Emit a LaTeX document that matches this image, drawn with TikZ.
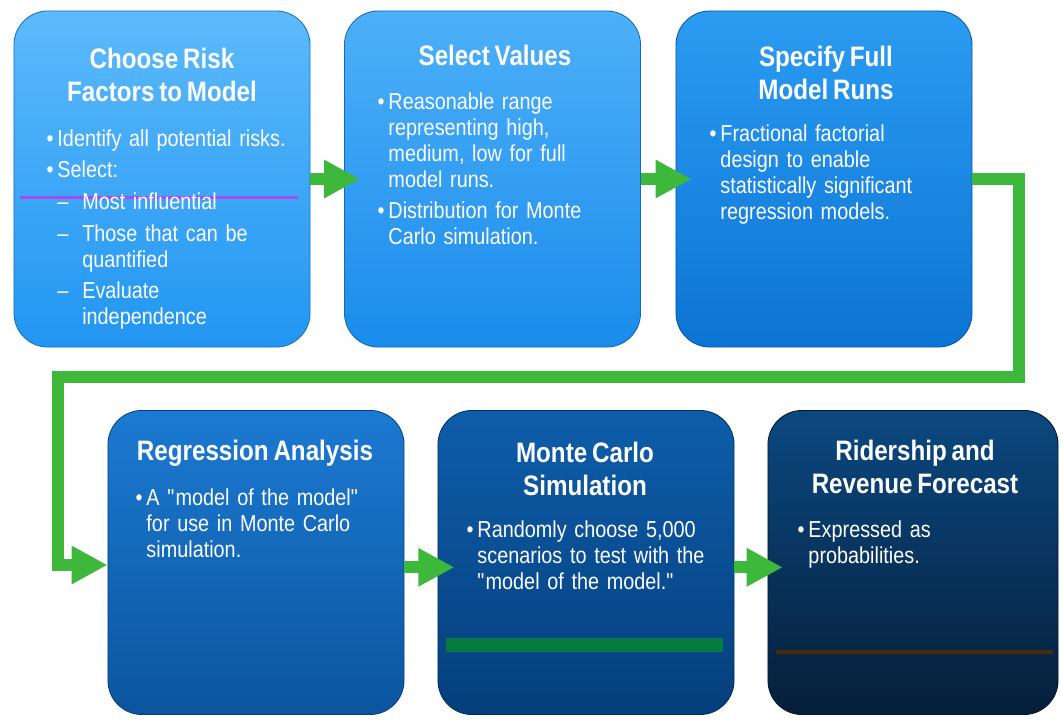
\documentclass[tikz,border=0pt]{standalone}
\usepackage{fontspec}
\setmainfont[FakeStretch=0.86, WordSpace=0.72]{Liberation Sans}
\usepackage{enumitem}
\usetikzlibrary{arrows.meta}

\setlist[itemize,1]{label=\textbullet, leftmargin=0.28cm, labelsep=0.1cm, topsep=0pt, itemsep=4pt, parsep=0pt, partopsep=0pt}
\setlist[itemize,2]{label=\textendash, leftmargin=0.62cm, labelsep=0.35cm, topsep=4pt, itemsep=4pt, parsep=0pt, partopsep=0pt}

\definecolor{flowgreen}{HTML}{3DB83A}
\definecolor{risktop}{HTML}{5DBAFC}
\definecolor{riskbot}{HTML}{2196F2}
\definecolor{valuestop}{HTML}{4DB0F9}
\definecolor{valuesbot}{HTML}{1A8CEB}
\definecolor{spectop}{HTML}{2B9CF2}
\definecolor{specbot}{HTML}{0C74D4}
\definecolor{regtop}{HTML}{1C7AD2}
\definecolor{regbot}{HTML}{0B559E}
\definecolor{mctop}{HTML}{0E5DAA}
\definecolor{mcbot}{HTML}{053F7C}
\definecolor{foretop}{HTML}{0B4880}
\definecolor{forebot}{HTML}{061F3A}
\definecolor{markpurple}{HTML}{A64BF0}
\definecolor{bargreen}{HTML}{077A40}
\definecolor{barbrown}{HTML}{4A2A08}

\tikzset{
	stage/.style={rounded corners=0.85cm, minimum width=7.4cm, minimum height=8.4cm, inner sep=0pt, line width=0.6pt},
	lowstage/.style={stage, minimum height=7.6cm},
	heading/.style={text=white, font=\bfseries\fontsize{20}{23}\selectfont, align=center},
	points/.style={text=white, font=\fontsize{16.4}{18.5}\selectfont, text width=6.8cm, align=left, anchor=north west, inner sep=0pt},
	flow/.style={draw=flowgreen, line width=0.3cm, line join=miter, -{Triangle[length=0.9cm, width=0.9cm]}},
}

\begin{document}
\begin{tikzpicture}[x=0.025cm, y=-0.025cm]
			\useasboundingbox (0,0) rectangle (1061,719);

			\node[stage, top color=risktop, bottom color=riskbot, draw=riskbot!75!black] (risk) at (162,179) {};
			\node[stage, top color=valuestop, bottom color=valuesbot, draw=valuesbot!75!black] (values) at (492.5,179) {};
			\node[stage, top color=spectop, bottom color=specbot, draw=specbot!75!black] (spec) at (824,179) {};
			\node[lowstage, top color=regtop, bottom color=regbot, draw=regbot!75!black] (reg) at (256,562.5) {};
			\node[lowstage, top color=mctop, bottom color=mcbot, draw=mcbot!75!black] (mc) at (586,562.5) {};
			\node[lowstage, minimum width=7.25cm, top color=foretop, bottom color=forebot, draw=forebot!75!black] (fore) at (913,562.5) {};

			\draw[draw=markpurple, line width=0.075cm] (20,197) -- (298,197);
			\draw[draw=bargreen, line width=0.35cm] (446,645) -- (723,645);
			\draw[draw=barbrown, line width=0.12cm] (776,652) -- (1053,652);

			\node[heading] (riskT) at (162,75) {Choose Risk\\Factors to Model};
			\node[points] (riskP) at (46,120) {\begin{itemize}
				\item Identify all potential risks.
				\item Select:
				\begin{itemize}
					\item Most influential
					\item Those that can be\\quantified
					\item Evaluate\\independence
				\end{itemize}
			\end{itemize}};

			\node[heading] (valuesT) at (495,55) {Select Values};
			\node[points] (valuesP) at (377,83) {\begin{itemize}
				\item Reasonable range\\representing high,\\medium, low for full\\model runs.
				\item Distribution for Monte\\Carlo simulation.
			\end{itemize}};

			\node[heading] (specT) at (826,73) {Specify Full\\Model Runs};
			\node[points] (specP) at (709,115) {\begin{itemize}
				\item Fractional factorial\\design to enable\\statistically significant\\regression models.
			\end{itemize}};

			\node[heading] (regT) at (255,453) {Regression Analysis};
			\node[points] (regP) at (135,479) {\begin{itemize}
				\item A \textquotedbl model of the model\textquotedbl\\for use in Monte Carlo\\simulation.
			\end{itemize}};

			\node[heading] (mcT) at (585,469) {Monte Carlo\\Simulation};
			\node[points] (mcP) at (466,511) {\begin{itemize}
				\item Randomly choose 5,000\\scenarios to test with the\\\textquotedbl model of the model.\textquotedbl
			\end{itemize}};

			\node[heading] (foreT) at (915,467) {Ridership and\\Revenue Forecast};
			\node[points] (foreP) at (797,511) {\begin{itemize}
				\item Expressed as\\probabilities.
			\end{itemize}};

			\coordinate (turnR) at (1019,377);
			\coordinate (turnL) at (58,565);

			\draw[flow] (risk.east) -- ([xshift=0.4cm]values.west);
			\draw[flow] (values.east) -- ([xshift=0.4cm]spec.west);
			\draw[flow] (spec.east) -| (turnR) -| (turnL) -- (reg.west |- turnL);
			\draw[flow] ([yshift=-0.12cm]reg.east) -- ([xshift=0.42cm, yshift=-0.12cm]mc.west);
			\draw[flow] ([yshift=-0.12cm]mc.east) -- ([xshift=0.38cm, yshift=-0.12cm]fore.west);
\end{tikzpicture}
\end{document}
